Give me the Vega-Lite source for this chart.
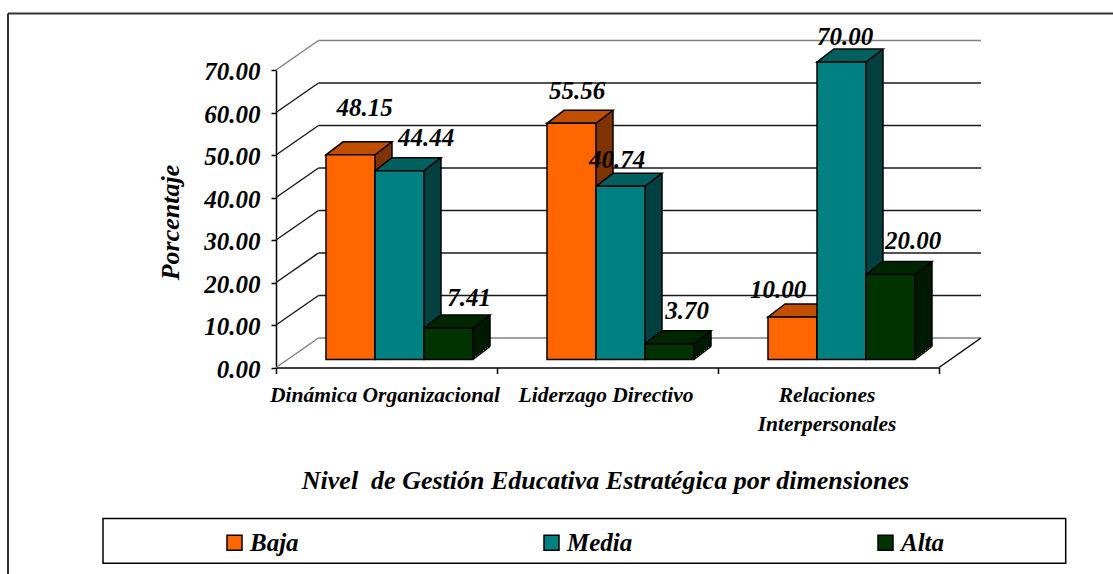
{"$schema":"https://vega.github.io/schema/vega-lite/v6.json","autosize":"none","padding":{"left":276,"top":70,"right":174,"bottom":206.5},"width":663,"height":297.5,"background":"white","config":{"view":{"stroke":null}},
"resolve":{"scale":{"xOffset":"independent","fill":"independent"}},
"datasets":{"bars":[{"dim":"Dinámica Organizacional","nivel":"Baja","pct":48.15},{"dim":"Dinámica Organizacional","nivel":"Media","pct":44.44},{"dim":"Dinámica Organizacional","nivel":"Alta","pct":7.41},{"dim":"Liderzago Directivo","nivel":"Baja","pct":55.56},{"dim":"Liderzago Directivo","nivel":"Media","pct":40.74},{"dim":"Liderzago Directivo","nivel":"Alta","pct":3.70},{"dim":"Relaciones Interpersonales","nivel":"Baja","pct":10.00},{"dim":"Relaciones Interpersonales","nivel":"Media","pct":70.00},{"dim":"Relaciones Interpersonales","nivel":"Alta","pct":20.00}],"grid":[{"t":0},{"t":10},{"t":20},{"t":30},{"t":40},{"t":50},{"t":60},{"t":70}]},
"data":{"name":"bars"},
"encoding":{"x":{"field":"dim","type":"nominal","sort":null,"scale":{"paddingInner":0,"paddingOuter":0},"axis":{"title":"Nivel \u00a0de Gestión Educativa Estratégica por dimensiones","titleFont":"Liberation Serif","titleFontStyle":"italic","titleFontWeight":"bold","titleFontSize":26,"titleColor":"black","titleY":100,"titleX":329,"labelAngle":0,"labelFont":"Liberation Serif","labelFontStyle":"italic","labelFontWeight":"bold","labelFontSize":21.5,"labelColor":"black","labelLimit":400,"labelPadding":11,"labelOffset":-2,"labelLineHeight":29,"labelExpr":"datum.label=='Relaciones Interpersonales'?['Relaciones','Interpersonales']:datum.label","domainColor":"black","domainWidth":1.5,"tickColor":"black","tickSize":6,"tickWidth":1.5,"tickBand":"extent"}},"y":{"field":"pct","type":"quantitative","scale":{"domain":[0,70],"nice":false},"axis":{"title":"Porcentaje","titleFont":"Liberation Serif","titleFontStyle":"italic","titleFontWeight":"bold","titleFontSize":26,"titleColor":"black","titleX":-93,"titleY":152,"format":".2f","values":[0,10,20,30,40,50,60,70],"labelFont":"Liberation Serif","labelFontStyle":"italic","labelFontWeight":"bold","labelFontSize":25,"labelColor":"black","labelPadding":11,"labelOffset":1.5,"domainColor":"black","domainWidth":1.5,"tickColor":"black","tickSize":5,"tickWidth":1.5,"grid":false}}},
"layer":[
{"data":{"values":[{}]},"mark":{"type":"rule","stroke":"#333333","strokeWidth":2},"encoding":{"x":{"value":-268},"x2":{"value":837},"y":{"value":-56.5}}},
{"data":{"values":[{}]},"mark":{"type":"rule","stroke":"#333333","strokeWidth":2},"encoding":{"x":{"value":-268},"y":{"value":-56.5},"y2":{"value":504}}},
{"data":{"values":[{}]},"mark":{"type":"rect","fill":"white","stroke":"black","strokeWidth":1.5},"encoding":{"x":{"value":-173},"x2":{"value":789.7},"y":{"value":448.5},"y2":{"value":493.3}}},
{"data":{"name":"grid"},"transform":[{"filter":"datum.t>0 && datum.t<70"}],"mark":{"type":"rule","stroke":"#1a1a1a","strokeWidth":1.5,"yOffset":-29.5},"encoding":{"x":{"value":42.5},"x2":{"value":705},"y":{"field":"t","type":"quantitative"}}},
{"data":{"name":"grid"},"transform":[{"filter":"datum.t==0 || datum.t==70"}],"mark":{"type":"rule","stroke":"#808080","strokeWidth":1.5,"yOffset":-29.5},"encoding":{"x":{"value":42.5},"x2":{"value":705},"y":{"field":"t","type":"quantitative"}}},
{"data":{"name":"grid"},"transform":[{"filter":"datum.t==0"}],"mark":{"type":"rule","stroke":"#808080","strokeWidth":1.5,"yOffset":-29.5,"y2Offset":-29.5},"encoding":{"x":{"value":42.5},"y":{"datum":0},"y2":{"datum":70}}},
{"data":{"name":"grid"},"transform":[{"filter":"datum.t==0"}],"mark":{"type":"rule","stroke":"#808080","strokeWidth":1.5,"yOffset":-29.5,"y2Offset":-29.5},"encoding":{"x":{"value":705},"y":{"datum":0},"y2":{"datum":70}}},
{"data":{"name":"grid"},"transform":[{"filter":"datum.t>0 && datum.t<70"}],"mark":{"type":"point","shape":"M0,0L42.5,-29.5","size":4,"filled":false,"stroke":"#1a1a1a","strokeWidth":1.5,"opacity":1},"encoding":{"x":{"value":0},"y":{"field":"t","type":"quantitative"}}},
{"data":{"name":"grid"},"transform":[{"filter":"datum.t==0 || datum.t==70"}],"mark":{"type":"point","shape":"M0,0L42.5,-29.5","size":4,"filled":false,"stroke":"#808080","strokeWidth":1.5,"opacity":1},"encoding":{"x":{"value":0},"y":{"field":"t","type":"quantitative"}}},
{"data":{"name":"grid"},"transform":[{"filter":"datum.t==0"}],"mark":{"type":"point","shape":"M0,0L42,-29.5","size":4,"filled":false,"stroke":"black","strokeWidth":1.5,"opacity":1},"encoding":{"x":{"value":663},"y":{"field":"t","type":"quantitative"}}},
{"mark":{"type":"bar","yOffset":-9.5,"y2Offset":-9.5},"encoding":{"y2":{"datum":0},"xOffset":{"field":"nivel","type":"nominal","sort":["Baja","Media","Alta"],"scale":{"type":"band","domain":["Baja","Media","Alta"],"range":[52,199],"paddingInner":0,"paddingOuter":0}},"fill":{"field":"nivel","type":"nominal","scale":{"domain":["Baja","Media","Alta"],"range":["#7F3300","#004040","#001A00"]},"legend":null}}},
{"mark":{"type":"bar","yOffset":-11.1,"y2Offset":-11.1},"encoding":{"y2":{"datum":0},"xOffset":{"field":"nivel","type":"nominal","sort":["Baja","Media","Alta"],"scale":{"type":"band","domain":["Baja","Media","Alta"],"range":[54,201],"paddingInner":0,"paddingOuter":0}},"fill":{"field":"nivel","type":"nominal","scale":{"domain":["Baja","Media","Alta"],"range":["#7F3300","#004040","#001A00"]},"legend":null}}},
{"mark":{"type":"bar","yOffset":-12.6,"y2Offset":-12.6},"encoding":{"y2":{"datum":0},"xOffset":{"field":"nivel","type":"nominal","sort":["Baja","Media","Alta"],"scale":{"type":"band","domain":["Baja","Media","Alta"],"range":[56,203],"paddingInner":0,"paddingOuter":0}},"fill":{"field":"nivel","type":"nominal","scale":{"domain":["Baja","Media","Alta"],"range":["#7F3300","#004040","#001A00"]},"legend":null}}},
{"mark":{"type":"bar","yOffset":-14.1,"y2Offset":-14.1},"encoding":{"y2":{"datum":0},"xOffset":{"field":"nivel","type":"nominal","sort":["Baja","Media","Alta"],"scale":{"type":"band","domain":["Baja","Media","Alta"],"range":[58,205],"paddingInner":0,"paddingOuter":0}},"fill":{"field":"nivel","type":"nominal","scale":{"domain":["Baja","Media","Alta"],"range":["#7F3300","#004040","#001A00"]},"legend":null}}},
{"mark":{"type":"bar","yOffset":-15.6,"y2Offset":-15.6},"encoding":{"y2":{"datum":0},"xOffset":{"field":"nivel","type":"nominal","sort":["Baja","Media","Alta"],"scale":{"type":"band","domain":["Baja","Media","Alta"],"range":[60,207],"paddingInner":0,"paddingOuter":0}},"fill":{"field":"nivel","type":"nominal","scale":{"domain":["Baja","Media","Alta"],"range":["#7F3300","#004040","#001A00"]},"legend":null}}},
{"mark":{"type":"bar","yOffset":-17.2,"y2Offset":-17.2},"encoding":{"y2":{"datum":0},"xOffset":{"field":"nivel","type":"nominal","sort":["Baja","Media","Alta"],"scale":{"type":"band","domain":["Baja","Media","Alta"],"range":[62,209],"paddingInner":0,"paddingOuter":0}},"fill":{"field":"nivel","type":"nominal","scale":{"domain":["Baja","Media","Alta"],"range":["#7F3300","#004040","#001A00"]},"legend":null}}},
{"mark":{"type":"bar","yOffset":-18.7,"y2Offset":-18.7},"encoding":{"y2":{"datum":0},"xOffset":{"field":"nivel","type":"nominal","sort":["Baja","Media","Alta"],"scale":{"type":"band","domain":["Baja","Media","Alta"],"range":[64,211],"paddingInner":0,"paddingOuter":0}},"fill":{"field":"nivel","type":"nominal","scale":{"domain":["Baja","Media","Alta"],"range":["#7F3300","#004040","#001A00"]},"legend":null}}},
{"mark":{"type":"bar","yOffset":-20.2,"y2Offset":-20.2},"encoding":{"y2":{"datum":0},"xOffset":{"field":"nivel","type":"nominal","sort":["Baja","Media","Alta"],"scale":{"type":"band","domain":["Baja","Media","Alta"],"range":[66,213],"paddingInner":0,"paddingOuter":0}},"fill":{"field":"nivel","type":"nominal","scale":{"domain":["Baja","Media","Alta"],"range":["#7F3300","#004040","#001A00"]},"legend":null}}},
{"mark":{"type":"bar","yOffset":-21,"y2Offset":-21},"encoding":{"y2":{"datum":0},"xOffset":{"field":"nivel","type":"nominal","sort":["Baja","Media","Alta"],"scale":{"type":"band","domain":["Baja","Media","Alta"],"range":[67,214],"paddingInner":0,"paddingOuter":0}},"fill":{"field":"nivel","type":"nominal","scale":{"domain":["Baja","Media","Alta"],"range":["#7F3300","#004040","#001A00"]},"legend":null}}},
{"mark":{"type":"rule","stroke":"black","strokeWidth":1.5,"yOffset":-21,"y2Offset":-21},"encoding":{"y2":{"datum":0},"xOffset":{"field":"nivel","type":"nominal","sort":["Baja","Media","Alta"],"scale":{"type":"band","domain":["Baja","Media","Alta"],"range":[91.5,238.5],"paddingInner":0,"paddingOuter":0}}}},
{"mark":{"type":"point","shape":"M-24.5,0L24.5,0L41.5,-13L-7.5,-13Z","size":4,"filled":true,"stroke":"black","strokeWidth":1.5,"opacity":1,"yOffset":-8},"encoding":{"xOffset":{"field":"nivel","type":"nominal","sort":["Baja","Media","Alta"],"scale":{"type":"band","domain":["Baja","Media","Alta"],"range":[50,197],"paddingInner":0,"paddingOuter":0}},"fill":{"field":"nivel","type":"nominal","scale":{"domain":["Baja","Media","Alta"],"range":["#C05000","#006060","#002600"]},"legend":null}}},
{"mark":{"type":"point","shape":"M24.5,0L41.5,-13","size":4,"filled":false,"stroke":"black","strokeWidth":1.5,"opacity":1,"yOffset":-8},"encoding":{"y":{"datum":0},"xOffset":{"field":"nivel","type":"nominal","sort":["Baja","Media","Alta"],"scale":{"type":"band","domain":["Baja","Media","Alta"],"range":[50,197],"paddingInner":0,"paddingOuter":0}}}},
{"mark":{"type":"bar","stroke":"black","strokeWidth":1.5,"yOffset":-8,"y2Offset":-8},"encoding":{"y2":{"datum":0},"xOffset":{"field":"nivel","type":"nominal","sort":["Baja","Media","Alta"],"scale":{"type":"band","domain":["Baja","Media","Alta"],"range":[50,197],"paddingInner":0,"paddingOuter":0}},"fill":{"field":"nivel","type":"nominal","scale":{"domain":["Baja","Media","Alta"],"range":["#FF6600","#008080","#003300"]},"legend":{"title":null,"orient":"none","direction":"horizontal","legendX":-54,"legendY":460,"padding":0,"columnPadding":240,"symbolType":"square","symbolSize":225,"symbolStrokeColor":"black","symbolStrokeWidth":1.5,"labelOffset":3,"labelFont":"Liberation Serif","labelFontStyle":"italic","labelFontWeight":"bold","labelFontSize":25,"labelColor":"black","labelLimit":200}}}},
{"transform":[{"filter":"datum.dim=='Dinámica Organizacional' && datum.nivel=='Baja'"}],"mark":{"type":"text","dx":14,"dy":-55,"font":"Liberation Serif","fontStyle":"italic","fontWeight":"bold","fontSize":25,"fill":"black"},"encoding":{"text":{"field":"pct","format":".2f"},"xOffset":{"field":"nivel","type":"nominal","sort":["Baja","Media","Alta"],"scale":{"type":"band","domain":["Baja","Media","Alta"],"range":[50,197],"paddingInner":0,"paddingOuter":0}}}},
{"transform":[{"filter":"datum.dim=='Dinámica Organizacional' && datum.nivel=='Media'"}],"mark":{"type":"text","dx":26.5,"dy":-41,"font":"Liberation Serif","fontStyle":"italic","fontWeight":"bold","fontSize":25,"fill":"black"},"encoding":{"text":{"field":"pct","format":".2f"},"xOffset":{"field":"nivel","type":"nominal","sort":["Baja","Media","Alta"],"scale":{"type":"band","domain":["Baja","Media","Alta"],"range":[50,197],"paddingInner":0,"paddingOuter":0}}}},
{"transform":[{"filter":"datum.dim=='Dinámica Organizacional' && datum.nivel=='Alta'"}],"mark":{"type":"text","dx":20.5,"dy":-38.5,"font":"Liberation Serif","fontStyle":"italic","fontWeight":"bold","fontSize":25,"fill":"black"},"encoding":{"text":{"field":"pct","format":".2f"},"xOffset":{"field":"nivel","type":"nominal","sort":["Baja","Media","Alta"],"scale":{"type":"band","domain":["Baja","Media","Alta"],"range":[50,197],"paddingInner":0,"paddingOuter":0}}}},
{"transform":[{"filter":"datum.dim=='Liderzago Directivo' && datum.nivel=='Baja'"}],"mark":{"type":"text","dx":5.5,"dy":-40,"font":"Liberation Serif","fontStyle":"italic","fontWeight":"bold","fontSize":25,"fill":"black"},"encoding":{"text":{"field":"pct","format":".2f"},"xOffset":{"field":"nivel","type":"nominal","sort":["Baja","Media","Alta"],"scale":{"type":"band","domain":["Baja","Media","Alta"],"range":[50,197],"paddingInner":0,"paddingOuter":0}}}},
{"transform":[{"filter":"datum.dim=='Liderzago Directivo' && datum.nivel=='Media'"}],"mark":{"type":"text","dx":-3.5,"dy":-34,"font":"Liberation Serif","fontStyle":"italic","fontWeight":"bold","fontSize":25,"fill":"black"},"encoding":{"text":{"field":"pct","format":".2f"},"xOffset":{"field":"nivel","type":"nominal","sort":["Baja","Media","Alta"],"scale":{"type":"band","domain":["Baja","Media","Alta"],"range":[50,197],"paddingInner":0,"paddingOuter":0}}}},
{"transform":[{"filter":"datum.dim=='Liderzago Directivo' && datum.nivel=='Alta'"}],"mark":{"type":"text","dx":17.5,"dy":-41,"font":"Liberation Serif","fontStyle":"italic","fontWeight":"bold","fontSize":25,"fill":"black"},"encoding":{"text":{"field":"pct","format":".2f"},"xOffset":{"field":"nivel","type":"nominal","sort":["Baja","Media","Alta"],"scale":{"type":"band","domain":["Baja","Media","Alta"],"range":[50,197],"paddingInner":0,"paddingOuter":0}}}},
{"transform":[{"filter":"datum.dim=='Relaciones Interpersonales' && datum.nivel=='Baja'"}],"mark":{"type":"text","dx":-14.5,"dy":-35,"font":"Liberation Serif","fontStyle":"italic","fontWeight":"bold","fontSize":25,"fill":"black"},"encoding":{"text":{"field":"pct","format":".2f"},"xOffset":{"field":"nivel","type":"nominal","sort":["Baja","Media","Alta"],"scale":{"type":"band","domain":["Baja","Media","Alta"],"range":[50,197],"paddingInner":0,"paddingOuter":0}}}},
{"transform":[{"filter":"datum.dim=='Relaciones Interpersonales' && datum.nivel=='Media'"}],"mark":{"type":"text","dx":3.5,"dy":-33,"font":"Liberation Serif","fontStyle":"italic","fontWeight":"bold","fontSize":25,"fill":"black"},"encoding":{"text":{"field":"pct","format":".2f"},"xOffset":{"field":"nivel","type":"nominal","sort":["Baja","Media","Alta"],"scale":{"type":"band","domain":["Baja","Media","Alta"],"range":[50,197],"paddingInner":0,"paddingOuter":0}}}},
{"transform":[{"filter":"datum.dim=='Relaciones Interpersonales' && datum.nivel=='Alta'"}],"mark":{"type":"text","dx":22.5,"dy":-41.5,"font":"Liberation Serif","fontStyle":"italic","fontWeight":"bold","fontSize":25,"fill":"black"},"encoding":{"text":{"field":"pct","format":".2f"},"xOffset":{"field":"nivel","type":"nominal","sort":["Baja","Media","Alta"],"scale":{"type":"band","domain":["Baja","Media","Alta"],"range":[50,197],"paddingInner":0,"paddingOuter":0}}}}
]}
